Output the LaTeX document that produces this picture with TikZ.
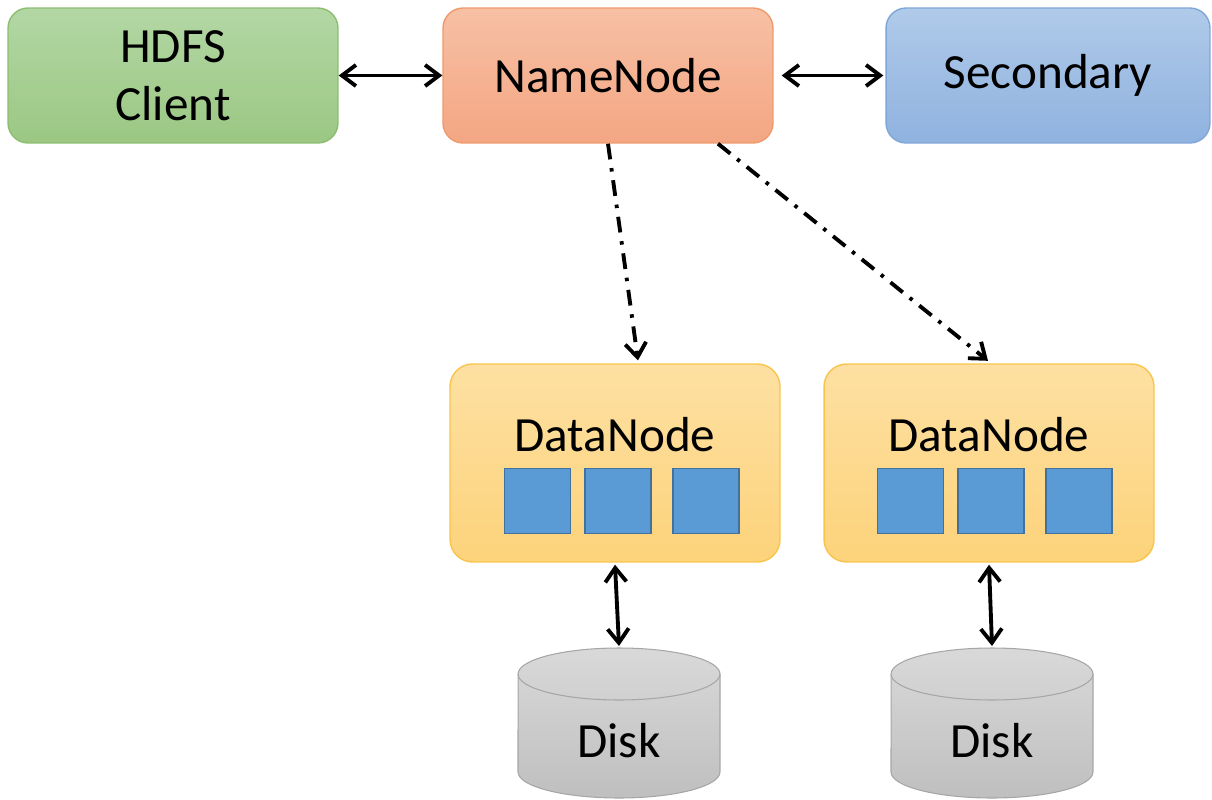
\documentclass[tikz,border=0pt]{standalone}
\usepackage{fontspec}
\setmainfont{Carlito}
\usepackage{tikz}
\usetikzlibrary{arrows.meta}

\definecolor{clientT}{HTML}{B3D7A4}
\definecolor{clientB}{HTML}{9BC783}
\definecolor{clientL}{HTML}{8CBE72}
\definecolor{nameT}{HTML}{F7C0A4}
\definecolor{nameB}{HTML}{F4A683}
\definecolor{nameL}{HTML}{EE9A6C}
\definecolor{secT}{HTML}{B0CAE9}
\definecolor{secB}{HTML}{8FB2DF}
\definecolor{secL}{HTML}{7FA6D8}
\definecolor{dataT}{HTML}{FDE0A2}
\definecolor{dataB}{HTML}{FDD37B}
\definecolor{dataL}{HTML}{F8C44C}
\definecolor{blockF}{HTML}{5B9BD5}
\definecolor{blockL}{HTML}{41719C}
\definecolor{diskT}{HTML}{D9D9D9}
\definecolor{diskB}{HTML}{BFBFBF}
\definecolor{diskL}{HTML}{A6A6A6}

\begin{document}
\begin{tikzpicture}
	[x=0.02cm,y=-0.02cm,
	 box/.style={rounded corners=0.4cm, line width=0.8pt, minimum height=2.7cm,
	   font=\fontsize{28}{33}\selectfont, align=center},
	 databox/.style={rounded corners=0.45cm, line width=0.8pt, draw=dataL,
	   top color=dataT, bottom color=dataB, minimum width=6.6cm, minimum height=3.96cm},
	 block/.style={draw=blockL, fill=blockF, line width=0.8pt,
	   minimum width=1.32cm, minimum height=1.3cm, inner sep=0pt},
	 diskbody/.style={draw=diskL, line width=0.6pt, top color=diskT, bottom color=diskB},
	 lbl/.style={font=\fontsize{28}{33}\selectfont},
	 both/.style={{Straight Barb[length=8pt,width=12pt]}-{Straight Barb[length=8pt,width=12pt]}, line width=2.2pt},
	 ctrl/.style={-{Straight Barb[length=8pt,width=12pt]}, line width=2.2pt,
	   dash pattern=on 9pt off 5pt on 2pt off 5pt}]
	\useasboundingbox (0,0) rectangle (1212,800);
	\node[box, draw=clientL, top color=clientT, bottom color=clientB, minimum width=6.6cm] (client) at (173,75.5) {HDFS\\Client};
	\node[box, draw=nameL, top color=nameT, bottom color=nameB, minimum width=6.6cm] (name) at (608,75.5) {NameNode};
	\node[box, draw=secL, top color=secT, bottom color=secB, minimum width=6.48cm] (sec) at (1048,75.5) {Secondary};
	
	\node[databox] (dn1) at (615,463) {};
	\node[databox] (dn2) at (989,463) {};
	\node[lbl] (dn1t) at (615,435) {DataNode};
	\node[lbl] (dn2t) at (989,435) {DataNode};
	\foreach \n/\x in {b11/537.5,b12/618,b13/706,b21/910.5,b22/991,b23/1079}
	\node[block] (\n) at (\x,501) {};
	
	% disks
	\foreach \n/\x in {1/619,2/992}{
	\draw[diskbody] (\x-101,772) arc (180:360:2.02cm and 0.52cm) -- (\x+101,674)
	  arc (0:180:2.02cm and 0.52cm) -- cycle;
	\draw[draw=diskL, line width=0.6pt] (\x-101,674) arc (180:360:2.02cm and 0.52cm);
	\coordinate (disk\n) at (\x,648);
	\node[lbl] (disk\n t) at (\x,741) {Disk};
	}
	
	\draw[both] (client.east) -- (name.west);
	\draw[both] ([xshift=0.16cm]name.east) -- ([xshift=-0.04cm]sec.west);
	\draw[ctrl] (name.south) -- ([xshift=0.46cm,yshift=0.06cm]dn1.north);
	\draw[ctrl] ([xshift=2.2cm]name.south) -- ([xshift=-0.02cm,yshift=0.05cm]dn2.north);
	\foreach \from/\to in {dn1/disk1,dn2/disk2}
	\draw[both] ([yshift=-0.04cm]\from.south) -- ([yshift=0.04cm]\to);
\end{tikzpicture}
\end{document}
